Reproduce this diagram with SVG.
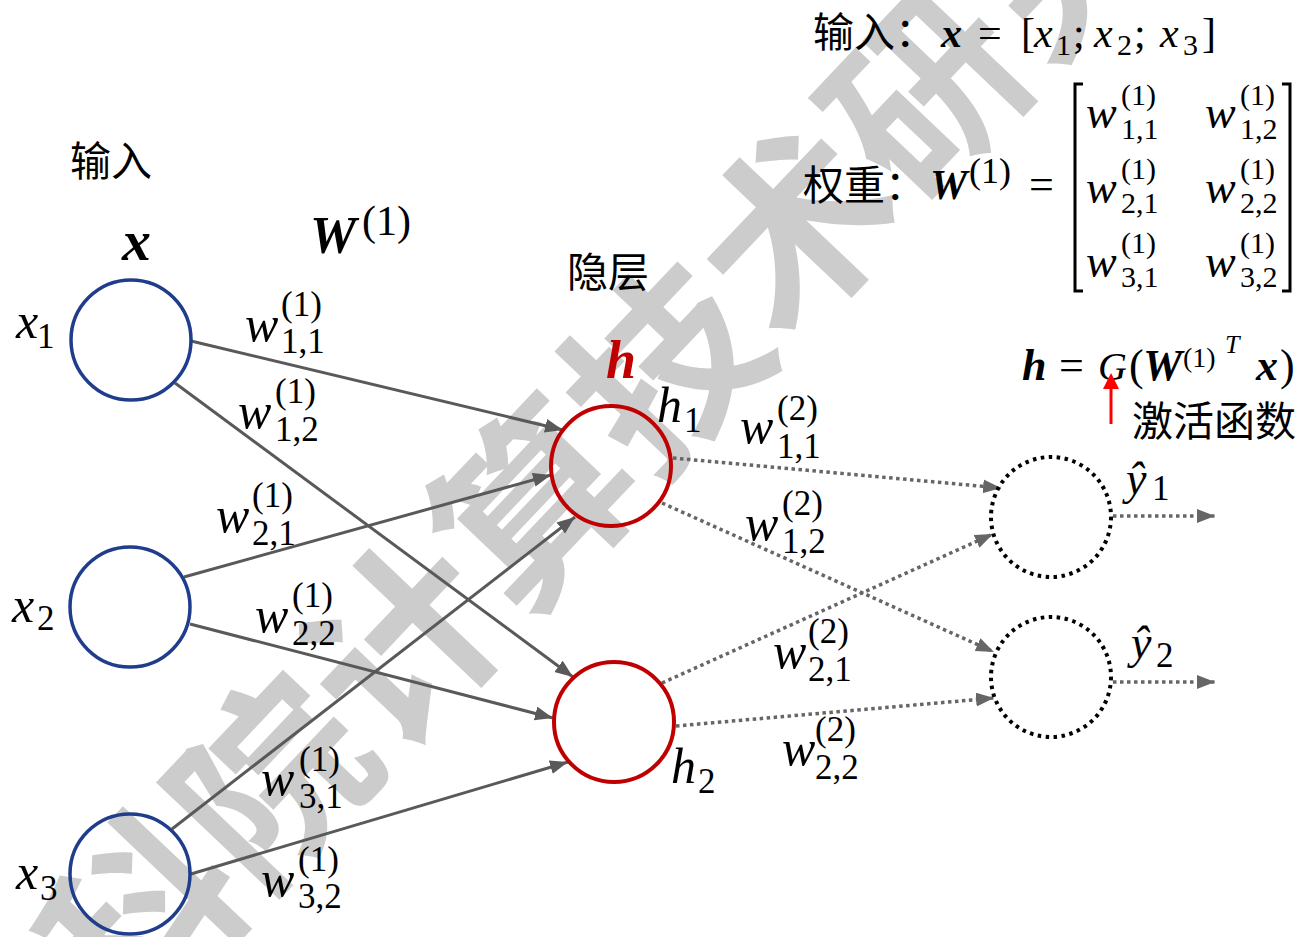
<svg xmlns="http://www.w3.org/2000/svg" width="1303" height="937" viewBox="0 0 1303 937">
<style>
.bg{fill:#ffffff}
.wm{font-family:"Noto Sans CJK SC",sans-serif;font-weight:bold;font-size:190px;fill:#cccccc}
.cjk{font-family:"Noto Sans CJK SC",sans-serif;font-size:41px;fill:#000}
.m{font-family:"Liberation Serif","DejaVu Serif",serif;fill:#000}
.w{font-size:50px;font-style:italic}
.s{font-size:35px;font-style:normal}
.bi{font-weight:bold;font-style:italic}
.it{font-style:italic}
.mw{font-size:46px;font-style:italic}
.ms{font-size:30px;font-style:normal}
.edge{stroke:#595959;stroke-width:3;fill:none}
.dot{stroke:#666666;stroke-width:3.5;stroke-dasharray:3.5 3.5;fill:none}
.in{fill:none;stroke:#1f3d8c;stroke-width:3.5}
.hid{fill:none;stroke:#c00000;stroke-width:4}
.out{fill:none;stroke:#000;stroke-width:4;stroke-dasharray:3.5 4.5}
.br{fill:none;stroke:#000;stroke-width:3}
</style>
<defs>
<marker id="ah" markerWidth="20" markerHeight="16" refX="18" refY="7" orient="auto" markerUnits="userSpaceOnUse"><path d="M0,0 L18,7 L0,14 z" fill="#595959"/></marker>
<marker id="ad" markerWidth="20" markerHeight="16" refX="18" refY="7" orient="auto" markerUnits="userSpaceOnUse"><path d="M0,0 L18,7 L0,14 z" fill="#666666"/></marker>
</defs>
<rect class="bg" x="0" y="0" width="1303" height="937"/>
<text class="wm" transform="translate(535,505) rotate(-46.5)" x="-855" y="70">中科院计算技术研究所</text>

<g id="connectors">
<line class="edge" x1="191" y1="341" x2="563" y2="430" marker-end="url(#ah)"/>
<line class="edge" x1="184" y1="577" x2="551" y2="475" marker-end="url(#ah)"/>
<line class="edge" x1="172" y1="829" x2="575" y2="517" marker-end="url(#ah)"/>
<line class="edge" x1="175" y1="383" x2="573" y2="677" marker-end="url(#ah)"/>
<line class="edge" x1="190" y1="624" x2="553" y2="718" marker-end="url(#ah)"/>
<line class="edge" x1="191" y1="874" x2="568" y2="762" marker-end="url(#ah)"/>
<line class="dot" x1="673" y1="458" x2="1001" y2="488" marker-end="url(#ad)"/>
<line class="dot" x1="662" y1="503" x2="994" y2="652" marker-end="url(#ad)"/>
<line class="dot" x1="662" y1="683" x2="993" y2="534" marker-end="url(#ad)"/>
<line class="dot" x1="676" y1="726" x2="994" y2="698" marker-end="url(#ad)"/>
<line class="dot" x1="1113" y1="516" x2="1215" y2="516" marker-end="url(#ad)"/>
<line class="dot" x1="1113" y1="682" x2="1215" y2="682" marker-end="url(#ad)"/>
</g>

<g id="edge-labels" class="m">
<text><tspan class="w" x="245" y="341">w</tspan><tspan class="s" x="281" y="316">(1)</tspan><tspan class="s" x="281" y="353">1,1</tspan></text>
<text><tspan class="w" x="238" y="428">w</tspan><tspan class="s" x="275" y="403">(1)</tspan><tspan class="s" x="275" y="441">1,2</tspan></text>
<text><tspan class="w" x="216" y="532">w</tspan><tspan class="s" x="252" y="507">(1)</tspan><tspan class="s" x="252" y="545">2,1</tspan></text>
<text><tspan class="w" x="255" y="632">w</tspan><tspan class="s" x="292" y="607">(1)</tspan><tspan class="s" x="292" y="645">2,2</tspan></text>
<text><tspan class="w" x="261" y="795">w</tspan><tspan class="s" x="299" y="771">(1)</tspan><tspan class="s" x="299" y="808">3,1</tspan></text>
<text><tspan class="w" x="261" y="896">w</tspan><tspan class="s" x="298" y="871">(1)</tspan><tspan class="s" x="298" y="908">3,2</tspan></text>
<text><tspan class="w" x="740" y="443">w</tspan><tspan class="s" x="777" y="420">(2)</tspan><tspan class="s" x="777" y="458">1,1</tspan></text>
<text><tspan class="w" x="745" y="540">w</tspan><tspan class="s" x="782" y="515">(2)</tspan><tspan class="s" x="782" y="553">1,2</tspan></text>
<text><tspan class="w" x="773" y="668">w</tspan><tspan class="s" x="808" y="643">(2)</tspan><tspan class="s" x="808" y="681">2,1</tspan></text>
<text><tspan class="w" x="782" y="765">w</tspan><tspan class="s" x="815" y="741">(2)</tspan><tspan class="s" x="815" y="779">2,2</tspan></text>
</g>

<g id="node-x1">
<circle class="in" cx="131" cy="340" r="60"/>
<text class="m"><tspan class="w" x="16" y="338">x</tspan><tspan class="s" x="37" y="348">1</tspan></text>
</g>
<g id="node-x2">
<circle class="in" cx="130" cy="607" r="60"/>
<text class="m"><tspan class="w" x="12" y="622">x</tspan><tspan class="s" x="37" y="630">2</tspan></text>
</g>
<g id="node-x3">
<circle class="in" cx="130" cy="874" r="60"/>
<text class="m"><tspan class="w" x="16" y="889">x</tspan><tspan class="s" x="40" y="900">3</tspan></text>
</g>
<g id="node-h1">
<circle class="hid" cx="611" cy="466" r="60"/>
<text class="m"><tspan class="w" x="657" y="422">h</tspan><tspan class="s" x="684" y="432">1</tspan></text>
</g>
<g id="node-h2">
<circle class="hid" cx="614" cy="722" r="60"/>
<text class="m"><tspan class="w" x="671" y="783">h</tspan><tspan class="s" x="698" y="793">2</tspan></text>
</g>
<g id="node-y1">
<circle class="out" cx="1051" cy="517" r="60"/>
<text class="m"><tspan class="w" x="1126" y="494" style="font-size:46px">ŷ</tspan><tspan class="s" x="1152" y="500">1</tspan></text>
</g>
<g id="node-y2">
<circle class="out" cx="1051" cy="677" r="60"/>
<text class="m"><tspan class="w" x="1131" y="658" style="font-size:46px">ŷ</tspan><tspan class="s" x="1156" y="667">2</tspan></text>
</g>

<g id="labels">
<text class="cjk" x="70" y="176">输入</text>
<text class="m bi" x="122" y="260" style="font-size:58px">x</text>
<text class="m"><tspan class="bi" x="310" y="253" style="font-size:52px">W</tspan><tspan x="362" y="235" style="font-size:42px">(1)</tspan></text>
<text class="cjk" x="567" y="287">隐层</text>
<text class="m bi" x="606" y="378" style="font-size:54px;fill:#c00000">h</text>
</g>

<g id="formula-input">
<text class="cjk" x="813" y="47">输入：</text>
<text class="m" style="font-size:42px"><tspan class="bi" x="941" y="47">x</tspan><tspan x="978" y="47">=</tspan><tspan x="1021" y="47">[</tspan><tspan class="it" x="1034" y="47">x</tspan><tspan x="1056" y="55" style="font-size:30px">1</tspan><tspan x="1073" y="47">;</tspan><tspan class="it" x="1094" y="47">x</tspan><tspan x="1117" y="55" style="font-size:30px">2</tspan><tspan x="1134" y="47">;</tspan><tspan class="it" x="1160" y="47">x</tspan><tspan x="1183" y="55" style="font-size:30px">3</tspan><tspan x="1202" y="47">]</tspan></text>
</g>

<g id="formula-weight">
<text class="cjk" x="803" y="200">权重：</text>
<text class="m"><tspan class="bi" x="930" y="199" style="font-size:42px">W</tspan><tspan x="969" y="183" style="font-size:36px">(1)</tspan><tspan x="1029" y="199" style="font-size:44px">=</tspan></text>
<path class="br" d="M1083,84 H1075 V291 H1083"/>
<path class="br" d="M1282,84 H1290 V291 H1282"/>
<text class="m">
<tspan class="mw" x="1086" y="128">w</tspan><tspan class="ms" x="1121" y="105">(1)</tspan><tspan class="ms" x="1121" y="139">1,1</tspan>
<tspan class="mw" x="1205" y="128">w</tspan><tspan class="ms" x="1240" y="105">(1)</tspan><tspan class="ms" x="1240" y="139">1,2</tspan>
<tspan class="mw" x="1086" y="203">w</tspan><tspan class="ms" x="1121" y="179">(1)</tspan><tspan class="ms" x="1121" y="213">2,1</tspan>
<tspan class="mw" x="1205" y="203">w</tspan><tspan class="ms" x="1240" y="179">(1)</tspan><tspan class="ms" x="1240" y="213">2,2</tspan>
<tspan class="mw" x="1086" y="277">w</tspan><tspan class="ms" x="1121" y="253">(1)</tspan><tspan class="ms" x="1121" y="287">3,1</tspan>
<tspan class="mw" x="1205" y="277">w</tspan><tspan class="ms" x="1240" y="253">(1)</tspan><tspan class="ms" x="1240" y="287">3,2</tspan>
</text>
</g>

<g id="formula-activation">
<text class="m" style="font-size:44px"><tspan class="bi" x="1022" y="380">h</tspan><tspan x="1059" y="380">=</tspan><tspan class="it" x="1098" y="380" style="font-size:40px">G</tspan><tspan x="1129" y="380">(</tspan><tspan class="bi" x="1143" y="380">W</tspan><tspan x="1183" y="367" style="font-size:28px">(1)</tspan><tspan class="it" x="1225" y="353" style="font-size:26px">T</tspan><tspan class="bi" x="1256" y="380">x</tspan><tspan x="1280" y="380">)</tspan></text>
<line x1="1111" y1="424" x2="1111" y2="386" stroke="#ff0000" stroke-width="3"/>
<path d="M1103,389 L1111,373 L1119,389 z" fill="#ff0000"/>
<text class="cjk" x="1132" y="436">激活函数</text>
</g>
</svg>
